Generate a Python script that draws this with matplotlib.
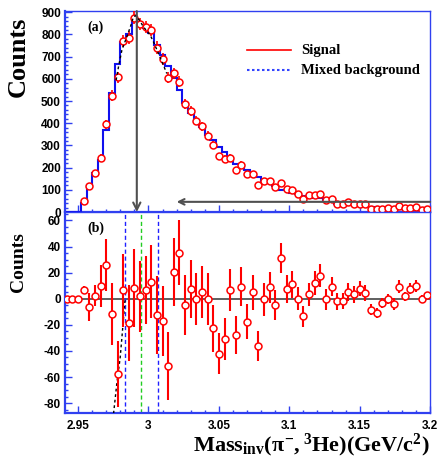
import numpy as np
import matplotlib
matplotlib.use("Agg")
import matplotlib.pyplot as plt
from matplotlib.ticker import MultipleLocator, FixedLocator

plt.rcParams['mathtext.fontset'] = 'custom'
plt.rcParams['mathtext.rm'] = 'Liberation Serif:bold'
plt.rcParams['mathtext.it'] = 'Liberation Serif:bold'
plt.rcParams['mathtext.bf'] = 'Liberation Serif:bold'

# ---------------- data ----------------
bin_edges_lo = 2.940
bin_width = 0.004
n_bins = 65
edges = bin_edges_lo + bin_width * np.arange(n_bins + 1)
centers = 0.5 * (edges[:-1] + edges[1:])

signal = [0, 0, 0, 50, 117, 178, 245, 396, 524, 607,
          771, 785, 875, 849, 834, 819, 740, 691, 605, 624,
          586, 487, 456, 411, 387, 344, 300, 252, 241, 244,
          189, 214, 171, 171, 120, 139, 141, 114, 129, 105,
          99, 80, 60, 75, 76, 80, 53, 57, 36, 36,
          44, 36, 37, 35, 13, 13, 16, 18, 12, 29,
          18, 18, 21, 10, 12]

background = [0, 0, 0, 43, 123, 176, 235, 370, 536, 665,
              764, 804, 867, 847, 827, 806, 753, 708, 656, 604,
              551, 492, 448, 411, 382, 345, 323, 294, 272, 237,
              217, 205, 189, 166, 156, 140, 132, 119, 98, 98,
              88, 80, 73, 72, 64, 62, 54, 48, 38, 38,
              39, 33, 29, 30, 21, 24, 20, 18, 16, 20,
              16, 10, 11, 10, 9]

difference = [0, 0, 0, 6.6, -6.3, 2.3, 9.6, 25.8, -11.6, -57.7,
              6.6, -18.7, 8.1, 1.7, 6.6, 13.1, -12.7, -17.2, -51.4, 20.5,
              35.2, -4.8, 7.6, 0, 5, -0.5, -22.8, -42, -30.6, 6.8,
              -28, 9.3, -17.7, 5, -36.2, -0.5, 8.6, -4.6, 31.1, 7.3,
              10.9, 0, -13.4, 3.3, 12.1, 17.7, -0.5, 9.3, -2, -2,
              5.3, 3.3, 7.8, 4.5, -8.4, -10.9, -3.5, -0.5, -4, 9.3,
              1.7, 7.8, 9.8, -0.3, 3]

errors = [0, 0, 0, 3, 11, 8, 16, 20, 24, 25,
          28, 29, 30, 27, 26, 28, 30, 27, 26, 26,
          25, 23, 22, 20, 20, 20, 18, 16, 16, 16,
          14.5, 15, 13.5, 13.5, 11.4, 12.7, 12, 11.4, 11.6, 10.8,
          10, 9, 8, 9, 9, 9, 8, 7.6, 6.3, 6,
          7, 6.6, 5.8, 6, 4.4, 3.8, 4, 3.8, 4.4, 5,
          3.8, 4.5, 4.4, 3, 2.5]

# dashed fit curve near the peak (top panel)
fit_top_x = [2.9770, 2.9787, 2.9811, 2.9846, 2.9875, 2.9893, 2.9910,
             2.9940, 2.9964, 3.0012, 3.0035, 3.0071, 3.0106, 3.0130]
fit_top_y = [594, 654, 729, 789, 841, 879, 885, 860, 834, 797, 767, 714, 661, 624]

# dashed curve in the lower panel
fit_bot_x = [2.9752, 2.9775, 2.9799, 2.9815, 2.9834]
fit_bot_y = [-88, -65, -45, -25, 0]

peak_mass = 2.9917
range_lo, range_hi, range_y = 3.020, 3.200, 46
blue_lines = [2.9836, 3.0064]
green_line = 2.9950

x_major = [2.95, 3.0, 3.05, 3.1, 3.15, 3.2]
x_labels = ['2.95', '3', '3.05', '3.1', '3.15', '3.2']
top_yticks = [0, 100, 200, 300, 400, 500, 600, 700, 800, 900]
bot_yticks = [-80, -60, -40, -20, 0, 20, 40, 60]

# ---------------- figure ----------------
fig = plt.figure(figsize=(4.43, 4.62), dpi=100)
ax1 = fig.add_axes([0.147, 0.541, 0.824, 0.435])
ax2 = fig.add_axes([0.147, 0.106, 0.824, 0.435])

frame_blue = '#3040f0'
tickfont = dict(family='Liberation Sans', weight='bold', size=8.5)

for ax in (ax1, ax2):
    ax.set_xlim(2.9408, 3.2)
    for s in ax.spines.values():
        s.set_color(frame_blue)
        s.set_linewidth(1.0)
    ax.spines['left'].set_linewidth(1.6)
    ax.spines['bottom'].set_linewidth(1.6)
    ax.xaxis.set_major_locator(FixedLocator(x_major))
    ax.xaxis.set_minor_locator(MultipleLocator(0.01))
    ax.tick_params(which='both', direction='in', color=frame_blue,
                   top=False, right=False, width=1.0)
    ax.tick_params(which='major', length=5)
    ax.tick_params(which='minor', length=2.5)
    ax.tick_params(axis='y', pad=3)

sig = np.array(signal, float)
bg = np.array(background, float)
err = np.array(errors, float)
diff = np.array(difference, float)

# ---- top panel ----
ax1.stairs(bg, edges, color='#1010ee', lw=1.5, zorder=3)
m = sig > 0
ax1.errorbar(centers[m], sig[m], yerr=err[m], fmt='o', ms=5, mfc='white',
             mec='red', mew=1.1, ecolor='red', elinewidth=1.2, capsize=0, zorder=4)
ax1.plot(fit_top_x, fit_top_y, color='black', ls=(0, (2, 2)), lw=1.0, zorder=5)
ax1.annotate('', xy=(peak_mass, 0), xytext=(peak_mass, 905),
             arrowprops=dict(arrowstyle='->', color='#505050', lw=1.5,
                             shrinkA=0, shrinkB=0, mutation_scale=13), zorder=6)
ax1.annotate('', xy=(range_lo, range_y), xytext=(range_hi, range_y),
             arrowprops=dict(arrowstyle='->', color='#505050', lw=1.5,
                             shrinkA=0, shrinkB=0, mutation_scale=10), zorder=6)
ax1.yaxis.set_major_locator(FixedLocator(top_yticks))
ax1.yaxis.set_minor_locator(MultipleLocator(20))
ax1.set_yticklabels([str(v) for v in top_yticks], **tickfont)
ax1.set_xticklabels([])
ax1.set_ylim(0, 905)

# legend (manual)
ax1.plot([0.499, 0.619], [0.806, 0.806], transform=ax1.transAxes,
         color='red', lw=1.2)
ax1.plot([0.499, 0.619], [0.706, 0.706], transform=ax1.transAxes,
         color='#3344ff', lw=1.5, ls=(0, (1.2, 1.2)))
legfont = dict(family='Liberation Serif', weight='bold', size=10.5)
ax1.text(0.647, 0.806, 'Signal', transform=ax1.transAxes, va='center', **legfont)
ax1.text(0.647, 0.706, 'Mixed background', transform=ax1.transAxes, va='center', **legfont)
ax1.text(0.06, 0.92, '(a)', transform=ax1.transAxes, va='center',
         family='Liberation Serif', weight='bold', size=10)

# ---- bottom panel ----
ax2.axhline(0, color='#444444', lw=1.2, zorder=2)
for xv in blue_lines:
    ax2.axvline(xv, color='#2020ff', lw=1.0, ls=(0, (3, 2)), zorder=2)
ax2.axvline(green_line, color='#22cc22', lw=1.0, ls=(0, (3, 2)), zorder=2)
ax2.plot(fit_bot_x, fit_bot_y, color='black', ls=(0, (2, 2)), lw=1.0, zorder=3)
ax2.errorbar(centers, diff, yerr=err, fmt='o', ms=5, mfc='white',
             mec='red', mew=1.1, ecolor='red', elinewidth=1.5, capsize=0, zorder=4)
ax2.set_ylim(-87.6, 66.4)
ax2.yaxis.set_major_locator(FixedLocator(bot_yticks))
ax2.yaxis.set_minor_locator(MultipleLocator(5))
ax2.set_yticklabels([str(v) for v in bot_yticks], **tickfont)
ax2.set_xticklabels(x_labels, **tickfont)
ax2.tick_params(axis='x', pad=5)
ax2.text(0.06, 0.92, '(b)', transform=ax2.transAxes, va='center',
         family='Liberation Serif', weight='bold', size=10)

# axis titles
fig.text(18 / 443, 1 - 57 / 462, 'Counts', rotation=90, ha='center', va='center',
         family='Liberation Serif', weight='bold', size=19)
fig.text(18 / 443, 1 - 262 / 462, 'Counts', rotation=90, ha='center', va='center',
         family='Liberation Serif', weight='bold', size=14)
fig.text(0.971, 0.006,
         r'$\mathrm{Mass}_{\mathrm{inv}}(\pi^{-},{}^{3}\mathrm{He})(\mathrm{GeV/c}^{2})$',
         ha='right', va='bottom', size=16)

fig.savefig('out.png', dpi=100)
